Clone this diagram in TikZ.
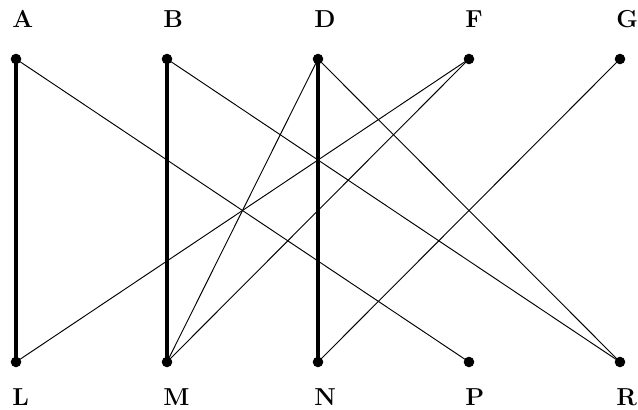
\documentclass[tikz,border=0pt]{standalone}
\begin{document}
\begin{tikzpicture}[
				x=0.53pt,y=0.53pt,line join = round,line cap = round,
				dinh/.style={circle,fill = black,inner sep = 0pt, minimum size=5.6pt},
				nhan/.style={anchor=base west,inner sep = 0pt,font=\fontsize{13}{15}\selectfont\bfseries},
				canhday/.style={line width=2.2pt},
				canhmong/.style={line width=0.5pt}]
				\useasboundingbox (0,0) rectangle (638,410);
				\node at (16,351) (nodeA) [dinh] {};
				\node at (167,351) (nodeB) [dinh] {};
				\node at (318,351) (nodeD) [dinh] {};
				\node at (469,351) (nodeF) [dinh] {};
				\node at (620,351) (nodeG) [dinh] {};
				\node at (16,48) (nodeL) [dinh] {};
				\node at (167,48) (nodeM) [dinh] {};
				\node at (318,48) (nodeN) [dinh] {};
				\node at (469,48) (nodeP) [dinh] {};
				\node at (620,48) (nodeR) [dinh] {};
				\node at (12,382) (labA) [nhan] {A};
				\node at (163,382) (labB) [nhan] {B};
				\node at (314,382) (labD) [nhan] {D};
				\node at (465,382) (labF) [nhan] {F};
				\node at (616,382) (labG) [nhan] {G};
				\node at (12,4) (labL) [nhan] {L};
				\node at (163,4) (labM) [nhan] {M};
				\node at (314,4) (labN) [nhan] {N};
				\node at (465,4) (labP) [nhan] {P};
				\node at (616,4) (labR) [nhan] {R};
				\draw[canhday] (nodeA.center) -- (nodeL.center);
				\draw[canhday] (nodeB.center) -- (nodeM.center);
				\draw[canhday] (nodeD.center) -- (nodeN.center);
				\draw[canhmong] (nodeA.center) -- (nodeP.center);
				\draw[canhmong] (nodeB.center) -- (nodeR.center);
				\draw[canhmong] (nodeD.center) -- (nodeM.center);
				\draw[canhmong] (nodeD.center) -- (nodeR.center);
				\draw[canhmong] (nodeF.center) -- (nodeL.center);
				\draw[canhmong] (nodeF.center) -- (nodeM.center);
				\draw[canhmong] (nodeG.center) -- (nodeN.center);
			\end{tikzpicture}
\end{document}
